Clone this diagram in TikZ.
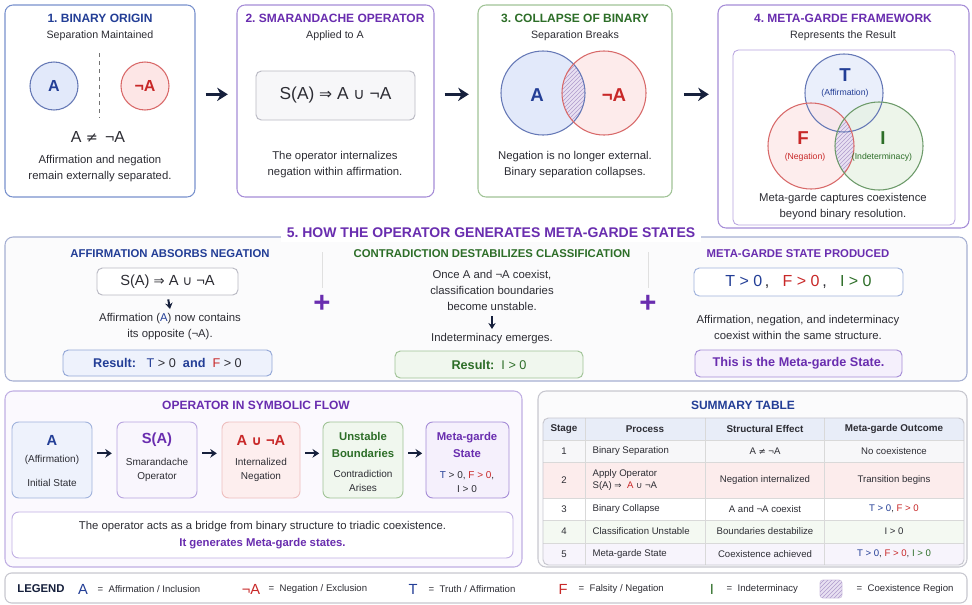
\documentclass[tikz,border=0pt]{standalone}
\usepackage{fontspec}
\setmainfont{Liberation Sans}
\newfontfamily\mgsymf[Scale=0.9]{DejaVu Sans}
\usepackage{xcolor}
\frenchspacing
\definecolor{mgblue}{RGB}{35,62,150}
\definecolor{mgpurple}{RGB}{105,45,175}
\definecolor{mggreen}{RGB}{45,110,40}
\definecolor{mgred}{RGB}{200,40,40}
\definecolor{mgnavy}{RGB}{22,32,60}
\definecolor{mgtext}{RGB}{45,45,52}
\definecolor{mgedgeblue}{RGB}{120,145,205}
\definecolor{mgedgepurple}{RGB}{165,140,215}
\definecolor{mgedgegreen}{RGB}{160,195,150}
\definecolor{mgedgegray}{RGB}{185,185,195}
\definecolor{mgedgesec}{RGB}{165,175,210}
\definecolor{mgfillblue}{RGB}{238,242,252}
\definecolor{mgfillred}{RGB}{253,238,238}
\definecolor{mgfillgreen}{RGB}{240,247,238}
\definecolor{mgfillpurple}{RGB}{245,240,252}
\definecolor{mgfillgray}{RGB}{247,247,249}
\definecolor{mgcircblue}{RGB}{226,233,250}
\definecolor{mgcircred}{RGB}{253,230,230}
\definecolor{mgcircgreen}{RGB}{230,242,226}
\definecolor{mglav}{RGB}{232,224,242}
\definecolor{mghatch}{RGB}{175,155,205}
\definecolor{mgrowhead}{RGB}{232,237,248}
\definecolor{mgrowred}{RGB}{252,236,236}
\definecolor{mgrowgreen}{RGB}{244,249,242}
\definecolor{mgrowpurple}{RGB}{247,244,252}
\usetikzlibrary{arrows.meta,positioning,fit,patterns}

\newcommand{\mgimp}{{\mgsymf ⇒}}
\newcommand{\mgcup}{{\mgsymf ∪}}
\newcommand{\mgneq}{{\mgsymf ≠}}

\begin{document}
\begin{tikzpicture}[x=0.75pt, y=-0.75pt,
    panelbox/.style={rectangle, rounded corners=6pt, line width=0.8pt, fill=white, inner sep=0pt},
    formbox/.style={rectangle, rounded corners=4pt, line width=0.7pt, draw=mgedgegray,
                    fill=mgfillgray, inner sep=0pt},
    flowbox/.style={rectangle, rounded corners=5pt, line width=0.7pt, inner sep=0pt},
    ptitle/.style={font=\fontsize{9}{11}\selectfont\bfseries},
    subtext/.style={font=\fontsize{8}{10}\selectfont, text=mgtext},
    bodytext/.style={font=\fontsize{8.5}{12}\selectfont, text=mgtext, align=center},
    smalltext/.style={font=\fontsize{7.5}{11}\selectfont, text=mgtext, align=center},
    setcircle/.style={circle, minimum size=36pt, inner sep=0pt, line width=0.8pt,
                      font=\fontsize{12}{14}\selectfont\bfseries},
    vennletter/.style={font=\fontsize{14}{16}\selectfont\bfseries},
    cell/.style={font=\fontsize{7.2}{9}\selectfont, text=mgtext, inner sep=1pt},
    legtext/.style={font=\fontsize{7.2}{9}\selectfont, text=mgtext, anchor=west},
    legsym/.style={font=\fontsize{11}{13}\selectfont},
    coex/.style={fill=mglav, postaction={pattern=north east lines, pattern color=mghatch}},
    bigarr/.style={-{Stealth[length=8pt,width=10pt]}, line width=2.6pt, mgnavy},
    medarr/.style={-{Stealth[length=5pt,width=6.5pt]}, line width=1.6pt, mgnavy},
    smallarr/.style={-{Stealth[length=4.5pt,width=5.5pt]}, line width=1.5pt, mgnavy}
  ]
    \useasboundingbox (0,0) rectangle (972,604);

    % Panel 1: binary origin
    \node[panelbox, draw=mgedgeblue, fit={(5,5) (195,197)}] (p1) {};
    \node[ptitle, text=mgblue] (t1) at (100,18) {1. BINARY ORIGIN};
    \node[subtext] (s1) at (100,36) {Separation Maintained};
    \node[setcircle, draw=mgblue!70, fill=mgcircblue, text=mgblue] (ca) at (54,86) {A};
    \node[setcircle, draw=mgred!70, fill=mgcircred, text=mgred] (cna) at (145,86) {¬A};
    \draw[dashed, black!55, line width=0.7pt] (99,53) -- (99,118);
    \node[font=\fontsize{12}{14}\selectfont, text=mgtext] (neq1) at (98,137) {A \mgneq\ \,¬A};
    \node[bodytext] (d1) at (100,169) {Affirmation and negation\\remain externally separated.};

    % Panel 2: operator
    \node[panelbox, draw=mgedgepurple, fit={(237,5) (434,197)}] (p2) {};
    \node[ptitle, text=mgpurple] (t2) at (335,18) {2. SMARANDACHE OPERATOR};
    \node[subtext] (s2) at (335,36) {Applied to A};
    \node[formbox, fit={(256,71) (415,120)}] (op2) {};
    \node[font=\fontsize{13}{15}\selectfont, text=mgtext] (op2t) at (op2.center) {S(A) \mgimp\ A \mgcup\ ¬A};
    \node[bodytext] (d2) at (335,165) {The operator internalizes\\negation within affirmation.};

    % Panel 3: collapse
    \node[panelbox, draw=mgedgegreen, fit={(478,5) (672,197)}] (p3) {};
    \node[ptitle, text=mggreen] (t3) at (575,18) {3. COLLAPSE OF BINARY};
    \node[subtext] (s3) at (575,36) {Separation Breaks};
    \fill[mgcircblue] (543,93) circle (42);
    \fill[mgcircred, fill opacity=0.8] (604,93) circle (42);
    \begin{scope}
      \clip (543,93) circle (42);
      \fill[coex] (604,93) circle (42);
    \end{scope}
    \draw[mgblue!70, line width=0.8pt] (543,93) circle (42);
    \draw[mgred!70, line width=0.8pt] (604,93) circle (42);
    \node[vennletter, text=mgblue] (va) at (537,95) {A};
    \node[vennletter, text=mgred] (vna) at (614,95) {¬A};
    \node[bodytext] (d3) at (575,165) {Negation is no longer external.\\Binary separation collapses.};

    % Panel 4: framework
    \node[panelbox, draw=mgedgepurple, fit={(718,5) (969,228)}] (p4) {};
    \node[ptitle, text=mgpurple] (t4) at (843,18) {4. META-GARDE FRAMEWORK};
    \node[subtext] (s4) at (843,36) {Represents the Result};
    \node[panelbox, draw=mgedgepurple!80, line width=0.6pt, rounded corners=4pt,
          fit={(733,50) (955,225)}] (in4) {};
    \fill[mgcircblue, fill opacity=0.7] (844,93) circle (39);
    \fill[mgcircred, fill opacity=0.7] (811,146) circle (43);
    \fill[mgcircgreen, fill opacity=0.7] (879,146) circle (44);
    \begin{scope}
      \clip (811,146) circle (43);
      \fill[coex] (879,146) circle (44);
    \end{scope}
    \draw[mgblue!70, line width=0.8pt] (844,93) circle (39);
    \draw[mgred!70, line width=0.8pt] (811,146) circle (43);
    \draw[mggreen!70, line width=0.8pt] (879,146) circle (44);
    \node[vennletter, text=mgblue] (vt) at (845,75) {T};
    \node[font=\fontsize{6.5}{8}\selectfont, text=mgblue] (vtl) at (845,93) {(Affirmation)};
    \node[vennletter, text=mgred] (vf) at (803,138) {F};
    \node[font=\fontsize{6.5}{8}\selectfont, text=mgred] (vfl) at (805,157) {(Negation)};
    \node[vennletter, text=mggreen] (vi) at (883,138) {I};
    \node[font=\fontsize{6.5}{8}\selectfont, text=mggreen] (vil) at (882,157) {(Indeterminacy)};
    \node[bodytext] (d4) at (843,207) {Meta-garde captures coexistence\\beyond binary resolution.};

    % Arrows between panels
    \draw[bigarr, shorten <=7.5pt, shorten >=6.5pt] ([yshift=5pt]p1.east) -- ([yshift=5pt]p2.west);
    \draw[bigarr, shorten <=7.5pt, shorten >=6.5pt] ([yshift=5pt]p2.east) -- ([yshift=5pt]p3.west);
    \coordinate (a3) at ([yshift=5pt]p3.east);
    \draw[bigarr, shorten <=8.5pt, shorten >=6.5pt] (a3) -- (a3 -| p4.west);

    % Section 5
    \node[panelbox, draw=mgedgesec, fill=mgfillgray!50, fit={(5,237) (967,381)}] (sec5) {};
    \node[font=\fontsize{10.5}{12}\selectfont\bfseries, text=mgpurple, fill=white, inner xsep=4pt]
      (t5) at (491,233) {5. HOW THE OPERATOR GENERATES META-GARDE STATES};
    \draw[black!12, line width=0.6pt] (322,252) -- (322,288);
    \draw[black!12, line width=0.6pt] (648,252) -- (648,288);

    % column 1
    \node[font=\fontsize{8.5}{10}\selectfont\bfseries, text=mgblue] (c1) at (170,254) {AFFIRMATION ABSORBS NEGATION};
    \node[formbox, fill=white, fit={(97,268) (238,295)}] (f1) {};
    \node[font=\fontsize{11}{13}\selectfont, text=mgtext] (f1t) at (f1.center) {S(A) \mgimp\ A \mgcup\ ¬A};
    \node[bodytext] (e1) at (170,327) {Affirmation ({\color{mgblue}A}) now contains\\its opposite (¬A).};
    \draw[smallarr, shorten <=3pt, shorten >=0pt] (f1.south) -- (e1.north);
    \node[formbox, draw=mgedgeblue!80, fill=mgfillblue, fit={(63,350) (272,376)}] (r1) {};
    \node[font=\fontsize{9.5}{11}\selectfont, text=mgblue] (r1t) at (r1.center)
      {\textbf{Result:}\ \ \ T {\color{mgtext}> 0}\ \ \textbf{and}\ \ {\color{mgred}F} {\color{mgtext}> 0}};

    \node[font=\fontsize{22}{22}\selectfont\bfseries, text=mgpurple] (plus1) at (322,304) {+};

    % column 2
    \node[font=\fontsize{8.5}{10}\selectfont\bfseries, text=mggreen] (c2) at (492,254) {CONTRADICTION DESTABILIZES CLASSIFICATION};
    \node[bodytext] (e2) at (492,290) {Once A and ¬A coexist,\\classification boundaries\\become unstable.};
    \node[bodytext] (g2) at (492,339) {Indeterminacy emerges.};
    \draw[smallarr, shorten <=1pt, shorten >=0pt] (e2.south) -- (g2.north);
    \node[formbox, draw=mgedgegreen, fill=mgfillgreen, fit={(395,351) (583,378)}] (r2) {};
    \node[font=\fontsize{9.5}{11}\selectfont\bfseries, text=mggreen] (r2t) at (r2.center)
      {Result:\ \ \mdseries I > 0};

    \node[font=\fontsize{22}{22}\selectfont\bfseries, text=mgpurple] (plus2) at (648,304) {+};

    % column 3
    \node[font=\fontsize{8.5}{10}\selectfont\bfseries, text=mgpurple] (c3) at (798,254) {META-GARDE STATE PRODUCED};
    \node[formbox, fill=white, draw=mgedgeblue!70, fit={(694,268) (903,296)}] (f3) {};
    \node[font=\fontsize{12}{14}\selectfont] (f3t) at (f3.center)
      {{\color{mgblue}T > 0}{\color{mgtext}\,,}\ \ \ {\color{mgred}F > 0}{\color{mgtext}\,,}\ \ \ {\color{mggreen}I > 0}};
    \node[bodytext] (e3) at (798,327) {Affirmation, negation, and indeterminacy\\coexist within the same structure.};
    \node[formbox, draw=mgedgepurple, fill=mgfillpurple, fit={(695,350) (902,377)}] (r3) {};
    \node[font=\fontsize{9.5}{11}\selectfont\bfseries, text=mgpurple] (r3t) at (r3.center)
      {This is the Meta-garde State.};

    % Operator in symbolic flow
    \node[panelbox, draw=mgedgepurple!70, fill=mgfillpurple!40, fit={(5,391) (522,567)}] (flw) {};
    \node[ptitle, text=mgpurple] (tf) at (256,405) {OPERATOR IN SYMBOLIC FLOW};

    \node[flowbox, draw=mgedgeblue!70, fill=mgfillblue, fit={(12,422) (92,498)}] (b1) {};
    \node[font=\fontsize{11}{13}\selectfont\bfseries, text=mgblue] (b1a) at (52,440) {A};
    \node[smalltext] (b1b) at (52,460) {(Affirmation)};
    \node[smalltext] (b1c) at (52,483) {Initial State};

    \node[flowbox, draw=mgedgepurple!80, fill=mgfillpurple!60, fit={(117,422) (197,498)}] (b2) {};
    \node[font=\fontsize{11}{13}\selectfont\bfseries, text=mgpurple] (b2a) at (157,440) {S(A)};
    \node[smalltext] (b2b) at (157,470) {Smarandache\\Operator};

    \node[flowbox, draw=mgred!30, fill=mgfillred, fit={(222,422) (300,498)}] (b3) {};
    \node[font=\fontsize{11}{13}\selectfont\bfseries, text=mgred] (b3a) at (261,440) {A \mgcup\ ¬A};
    \node[smalltext] (b3b) at (261,470) {Internalized\\Negation};

    \node[flowbox, draw=mgedgegreen, fill=mgfillgreen, fit={(323,422) (403,498)}] (b4) {};
    \node[font=\fontsize{8.5}{12.5}\selectfont\bfseries, text=mggreen, align=center] (b4a) at (363,445) {Unstable\\Boundaries};
    \node[smalltext] (b4b) at (363,481) {Contradiction\\Arises};

    \node[flowbox, draw=mgedgepurple, fill=mgfillpurple, fit={(426,422) (509,498)}] (b5) {};
    \node[font=\fontsize{8.5}{12.5}\selectfont\bfseries, text=mgpurple, align=center] (b5a) at (467,445) {Meta-garde\\State};
    \node[smalltext] (b5b) at (467,482) {{\color{mgblue}T} > 0, {\color{mgred}F > 0},\\I > 0};

    \draw[medarr, shorten <=3.5pt, shorten >=3.5pt] ([yshift=5pt]b1.east) -- ([yshift=5pt]b2.west);
    \draw[medarr, shorten <=3.5pt, shorten >=3.5pt] ([yshift=5pt]b2.east) -- ([yshift=5pt]b3.west);
    \draw[medarr, shorten <=3.5pt, shorten >=2.5pt] ([yshift=5pt]b3.east) -- ([yshift=5pt]b4.west);
    \draw[medarr, shorten <=3.5pt, shorten >=2.5pt] ([yshift=5pt]b4.east) -- ([yshift=5pt]b5.west);

    \node[flowbox, draw=mgedgepurple!70, fill=white, fit={(12,512) (513,558)}] (brg) {};
    \node[bodytext, font=\fontsize{8.5}{13}\selectfont] (brgt) at (brg.center)
      {The operator acts as a bridge from binary structure to triadic coexistence.\\
       \textcolor{mgpurple}{\bfseries It generates Meta-garde states.}};

    % Summary table
    \node[panelbox, draw=mgedgegray!80, fill=mgfillgray!50, fit={(538,391) (967,567)}] (sum) {};
    \node[ptitle, text=mgblue] (ts) at (743,405) {SUMMARY TABLE};
    \begin{scope}
      \clip[rounded corners=4pt] (543,418) rectangle (964,565);
      \fill[white] (543,418) rectangle (964,565);
      \fill[mgrowhead] (543,418) rectangle (964,440);
      \fill[mgfillgray] (543,440) rectangle (964,462);
      \fill[mgrowred] (543,462) rectangle (964,498);
      \fill[white] (543,498) rectangle (964,520);
      \fill[mgrowgreen] (543,520) rectangle (964,543);
      \fill[mgrowpurple] (543,543) rectangle (964,565);
    \end{scope}
    \foreach \ly in {440,462,498,520,543}
      \draw[black!15, line width=0.5pt] (543,\ly) -- (964,\ly);
    \foreach \lx in {585,705,824}
      \draw[black!15, line width=0.5pt] (\lx,418) -- (\lx,565);
    \node[formbox, fill=none, draw=mgedgegray!80, fit={(543,418) (964,565)}] (tbl) {};

    \node[cell, font=\fontsize{7.4}{9}\selectfont\bfseries] (hst) at (564,429) {Stage};
    \node[cell, font=\fontsize{7.4}{9}\selectfont\bfseries] (hpr) at (645,429) {Process};
    \node[cell, font=\fontsize{7.4}{9}\selectfont\bfseries] (hef) at (765,429) {Structural Effect};
    \node[cell, font=\fontsize{7.4}{9}\selectfont\bfseries] (hou) at (894,429) {Meta-garde Outcome};

    \foreach \ry/\rs/\rp/\re/\ro in {
      451/1/{Binary Separation}/{A \mgneq\ ¬A}/{No coexistence},
      480/2/{Apply Operator\\S(A) \mgimp\ \ {\color{mgred}A} \mgcup\ ¬A}/{Negation internalized}/{Transition begins},
      509/3/{Binary Collapse}/{A and ¬A coexist}/{{\color{mgblue}T > 0}, {\color{mgred}F > 0}},
      531/4/{Classification Unstable}/{Boundaries destabilize}/{I > 0},
      554/5/{Meta-garde State}/{Coexistence achieved}/{{\color{mgblue}T > 0}, {\color{mgred}F > 0}, {\color{mggreen}I > 0}}}
    {
      \node[cell] (st\rs) at (564,\ry) {\rs};
      \node[cell, anchor=west, align=left] (pr\rs) at (591,\ry) {\rp};
      \node[cell] (ef\rs) at (765,\ry) {\re};
      \node[cell] (ou\rs) at (894,\ry) {\ro};
    }

    % Legend
    \node[panelbox, draw=mgedgegray!80, rounded corners=5pt, fit={(5,573) (967,603)}] (leg) {};
    \node[font=\fontsize{8.5}{10}\selectfont\bfseries, text=mgnavy] (lg) at (41,589) {LEGEND};
    \node[legsym, text=mgblue] (lga) at (83,589) {A};
    \node[legtext] (lgat) at (93,589) {=\ \ Affirmation / Inclusion};
    \node[legsym, text=mgred] (lgn) at (251,589) {¬A};
    \node[legtext] (lgnt) at (264,589) {=\ \ Negation / Exclusion};
    \node[legsym, text=mgblue] (lgt) at (413,589) {T};
    \node[legtext] (lgtt) at (424,589) {=\ \ Truth / Affirmation};
    \node[legsym, text=mgred] (lgf) at (563,589) {F};
    \node[legtext] (lgft) at (574,589) {=\ \ Falsity / Negation};
    \node[legsym, text=mggreen] (lgi) at (712,589) {I};
    \node[legtext] (lgit) at (722,589) {=\ \ Indeterminacy};
    \node[rectangle, rounded corners=2pt, coex, draw=mghatch!60, inner sep=0pt,
          fit={(820,580) (842,598)}] (lgc) {};
    \node[legtext] (lgct) at (852,589) {=\ \ Coexistence Region};
  \end{tikzpicture}
\end{document}
